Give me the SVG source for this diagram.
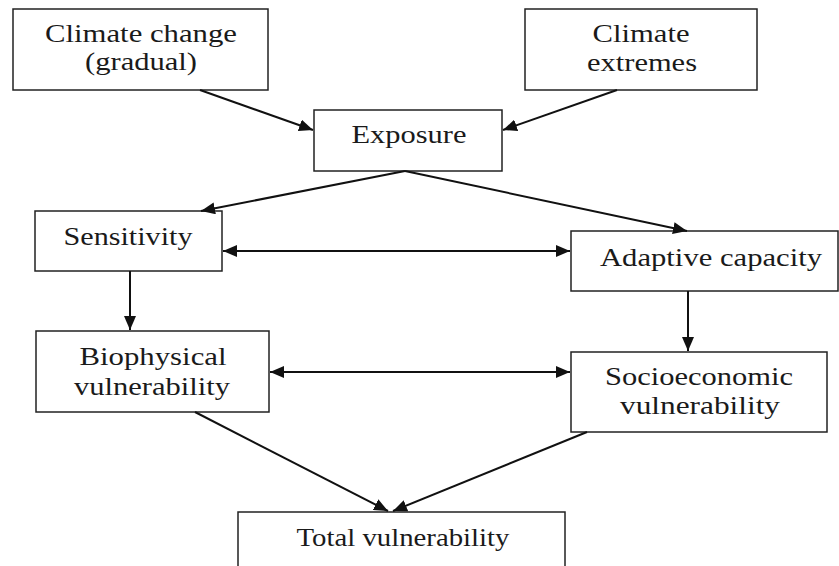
<svg xmlns="http://www.w3.org/2000/svg" width="839" height="566" viewBox="0 0 839 566">
<style>
.box{fill:#fff;stroke:#222;stroke-width:1.5}
.t{font-family:"Liberation Serif","Times New Roman",serif;font-size:25px;fill:#1a1a1a;text-anchor:middle}
.c{stroke:#111;stroke-width:2;fill:none}
</style>
<defs>
<marker id="ah" viewBox="0 0 14 12" refX="14" refY="6" markerWidth="14" markerHeight="12" markerUnits="userSpaceOnUse" orient="auto-start-reverse">
<path d="M0,0 L14,6 L0,12 Z" fill="#111"/>
</marker>
</defs>
<rect width="839" height="566" fill="#fff"/>
<g id="n1"><rect class="box" x="13" y="9" width="255" height="81"/>
<text class="t" x="141" y="42" textLength="192" lengthAdjust="spacingAndGlyphs">Climate change</text>
<text class="t" x="141" y="70" textLength="112" lengthAdjust="spacingAndGlyphs">(gradual)</text></g>
<g id="n2"><rect class="box" x="525" y="9" width="232" height="81"/>
<text class="t" x="641" y="42" textLength="97" lengthAdjust="spacingAndGlyphs">Climate</text>
<text class="t" x="642" y="71" textLength="110" lengthAdjust="spacingAndGlyphs">extremes</text></g>
<g id="n3"><rect class="box" x="314" y="110" width="188" height="61"/>
<text class="t" x="409" y="143" textLength="115" lengthAdjust="spacingAndGlyphs">Exposure</text></g>
<g id="n4"><rect class="box" x="35" y="211" width="187" height="60"/>
<text class="t" x="128" y="245" textLength="129" lengthAdjust="spacingAndGlyphs">Sensitivity</text></g>
<g id="n5"><rect class="box" x="571" y="231" width="267" height="60"/>
<text class="t" x="711" y="266" textLength="222" lengthAdjust="spacingAndGlyphs">Adaptive capacity</text></g>
<g id="n6"><rect class="box" x="36" y="331" width="233" height="81"/>
<text class="t" x="153" y="365" textLength="147" lengthAdjust="spacingAndGlyphs">Biophysical</text>
<text class="t" x="152" y="395" textLength="156" lengthAdjust="spacingAndGlyphs">vulnerability</text></g>
<g id="n7"><rect class="box" x="571" y="352" width="256" height="80"/>
<text class="t" x="699" y="385" textLength="188" lengthAdjust="spacingAndGlyphs">Socioeconomic</text>
<text class="t" x="700" y="414" textLength="160" lengthAdjust="spacingAndGlyphs">vulnerability</text></g>
<g id="n8"><rect class="box" x="238" y="512" width="327" height="70"/>
<text class="t" x="403" y="546" textLength="213" lengthAdjust="spacingAndGlyphs">Total vulnerability</text></g>
<g id="connectors">
<line class="c" x1="200" y1="90" x2="313" y2="130" marker-end="url(#ah)"/>
<line class="c" x1="617" y1="90" x2="503" y2="130" marker-end="url(#ah)"/>
<line class="c" x1="405" y1="171" x2="201" y2="211" marker-end="url(#ah)"/>
<line class="c" x1="405" y1="171" x2="687" y2="231" marker-end="url(#ah)"/>
<line class="c" x1="223" y1="251" x2="570" y2="251" marker-start="url(#ah)" marker-end="url(#ah)"/>
<line class="c" x1="130" y1="271" x2="130" y2="330" marker-end="url(#ah)"/>
<line class="c" x1="688" y1="291" x2="688" y2="351" marker-end="url(#ah)"/>
<line class="c" x1="270" y1="372" x2="570" y2="372" marker-start="url(#ah)" marker-end="url(#ah)"/>
<line class="c" x1="195" y1="412" x2="388" y2="511" marker-end="url(#ah)"/>
<line class="c" x1="587" y1="432" x2="393" y2="511" marker-end="url(#ah)"/>
</g>
</svg>
